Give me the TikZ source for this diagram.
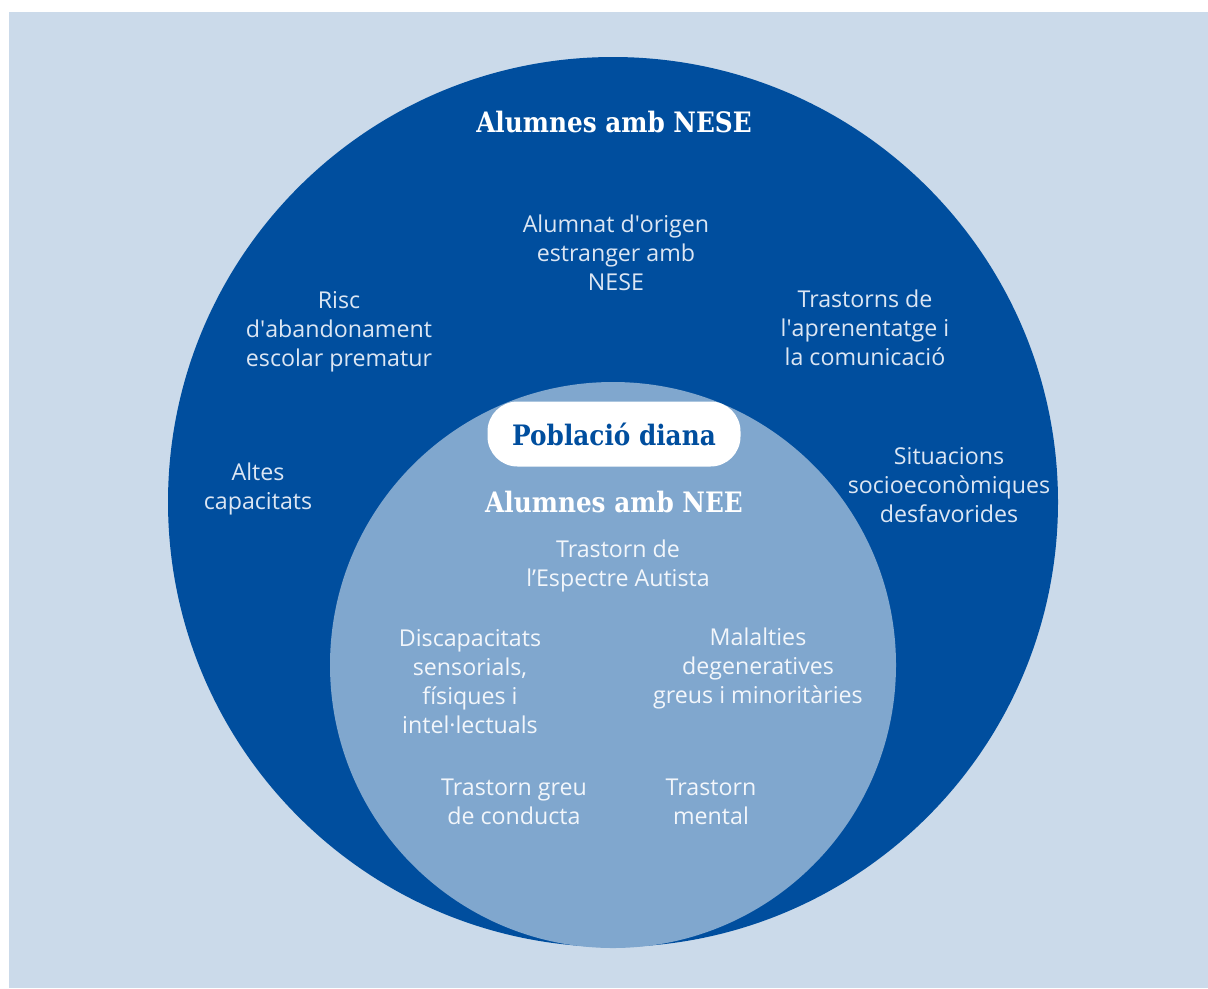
\documentclass[tikz,border=0pt]{standalone}
\usepackage{fontspec}
\setmainfont{Open Sans}
\newfontfamily\headfont{DejaVu Serif}[FakeStretch=0.88]
\definecolor{fonsblau}{HTML}{CBDAEA}
\definecolor{neseblau}{HTML}{004E9E}
\definecolor{neeblau}{HTML}{80A7CE}
\definecolor{textnese}{HTML}{DCE6F3}
\definecolor{textnee}{HTML}{F2F6FB}
\tikzset{
  cat/.style={align=center, font=\fontsize{16.5}{20.6}\selectfont, inner sep=0pt},
  catnese/.style={cat, text=textnese},
  catnee/.style={cat, text=textnee},
  titol/.style={font=\headfont\bfseries\fontsize{20}{24}\selectfont, inner sep=0pt},
  diana/.style={fill=white, rounded corners=30*0.025cm, minimum width=253*0.025cm,
    minimum height=65*0.025cm, text=neseblau, titol}
}
\begin{document}
\begin{tikzpicture}[x=0.025cm, y=-0.025cm]
\useasboundingbox (0,0) rectangle (1208,988);
% Fons
\fill[white] (0,0) rectangle (1208,988);
\fill[fonsblau] (9,12) rectangle (1208,988);
% Cercles
\fill[neseblau] (613,502) circle[radius=445];
\fill[neeblau] (613,665) circle[radius=283];
% Alumnes amb NESE
\node[titol, text=white] (nese) at (614,122) {Alumnes amb NESE};
\node[catnese] (origen) at (616,253) {Alumnat d\textquotesingle origen\\estranger amb\\NESE};
\node[catnese] (risc) at (339,332) {Risc\\d\textquotesingle abandonament\\escolar prematur};
\node[catnese] (aprenent) at (865,328) {Trastorns de\\l\textquotesingle aprenentatge i\\la comunicació};
\node[catnese] (altes) at (258,489) {Altes\\capacitats};
\node[catnese] (socio) at (949,485) {Situacions\\socioeconòmiques\\desfavorides};
% Població diana
\node[diana] (pob) at (614,434) {Població diana};
\node[titol, text=white] (nee) at (614,502) {Alumnes amb NEE};
\node[catnee] (tea) at (618,566) {Trastorn de\\l’Espectre Autista};
\node[catnee] (discap) at (470,682) {Discapacitats\\sensorials,\\físiques i\\intel·lectuals};
\node[catnee] (malalt) at (758,668) {Malalties\\degeneratives\\greus i minoritàries};
\node[catnee] (conducta) at (514,802) {Trastorn greu\\de conducta};
\node[catnee] (mental) at (711,802) {Trastorn\\mental};
\end{tikzpicture}
\end{document}
